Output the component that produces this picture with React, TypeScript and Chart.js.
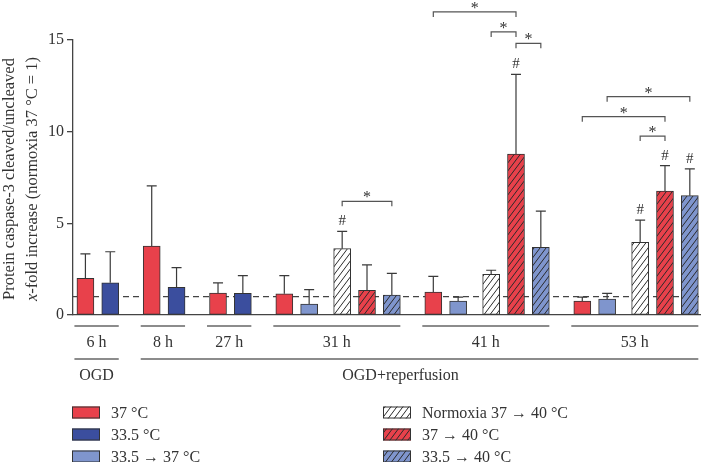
import React, { useEffect, useRef } from "react";
import { Chart, registerables } from "chart.js";
Chart.register(...registerables);

const FONT = '"Liberation Serif", "Times New Roman", serif';

// ---- data ----
const timepoints = ["6 h", "8 h", "27 h", "31 h", "41 h", "53 h"];
const phaseLabels = ["OGD", "OGD+reperfusion"];
const phaseFirstGroup = [0, 1];
const phaseLastGroup = [0, 5];
const seriesNames = [
  "37 °C",
  "33.5 °C",
  "33.5 → 37 °C",
  "Normoxia 37 → 40 °C",
  "37 → 40 °C",
  "33.5 → 40 °C",
];
const mean37C = [2.0, 3.76, 1.2, 1.16, 1.25, 0.76];
const sd37C = [1.33, 3.28, 0.55, 0.99, 0.86, 0.22];
const mean33C = [1.76, 1.51, 1.18, null, null, null];
const sd33C = [1.69, 1.07, 0.97, null, null, null];
const mean33to37 = [null, null, null, 0.6, 0.76, 0.87];
const sd33to37 = [null, null, null, 0.78, 0.22, 0.31];
const meanNormoxia = [null, null, null, 3.62, 2.22, 3.97];
const sdNormoxia = [null, null, null, 0.94, 0.22, 1.21];
const mean37to40 = [null, null, null, 1.35, 8.78, 6.76];
const sd37to40 = [null, null, null, 1.38, 4.35, 1.39];
const mean33to40 = [null, null, null, 1.09, 3.69, 6.51];
const sd33to40 = [null, null, null, 1.18, 1.98, 1.46];

const yTicksMax = 15;
const yTickStep = 5;
const referenceLevel = 1;

// significance brackets: [timepoint index, from series, to series, level]
const brackets: [number, number, number, number][] = [
  [3, 3, 5, 6.2],
  [4, 0, 4, 16.53],
  [4, 3, 4, 15.44],
  [4, 4, 5, 14.82],
  [5, 2, 5, 11.91],
  [5, 0, 4, 10.82],
  [5, 3, 4, 9.76],
];
// "#" marks: [timepoint index, series]
const hashMarks: [number, number][] = [
  [3, 3],
  [4, 4],
  [5, 3],
  [5, 4],
  [5, 5],
];

const means = [mean37C, mean33C, mean33to37, meanNormoxia, mean37to40, mean33to40];
const sds = [sd37C, sd33C, sd33to37, sdNormoxia, sd37to40, sd33to40];

const RED = "#E8414B";
const DARK_BLUE = "#3B4E9E";
const LIGHT_BLUE = "#7F95CD";
const WHITE = "#FFFFFF";
const INK = "#333333";
const LINE = "#555555";

function computePositions() {
  const WITHIN = 1;
  const HATCH_GAP = 1.33;
  const GROUP_GAP = 1.67;
  const pos: (number | null)[][] = means.map(() => timepoints.map(() => null));
  let cursor = 0;
  timepoints.forEach((_, t) => {
    let prev = -1;
    for (let s = 0; s < means.length; s++) {
      if (means[s][t] == null) continue;
      if (prev >= 0) cursor += s >= 3 && prev < 3 ? HATCH_GAP : WITHIN;
      pos[s][t] = cursor;
      prev = s;
    }
    cursor += GROUP_GAP;
  });
  return pos;
}

function makePattern(bg: string): CanvasPattern | string {
  const w = 6;
  const h = 8;
  const c = document.createElement("canvas");
  c.width = w;
  c.height = h;
  const g = c.getContext("2d");
  if (!g) return bg;
  g.fillStyle = bg;
  g.fillRect(0, 0, w, h);
  g.strokeStyle = "#2a2a2a";
  g.lineWidth = 1;
  for (const off of [-w, 0, w]) {
    g.beginPath();
    const x0 = -1;
    const x1 = w + 1;
    g.moveTo(x0, h - (h / w) * (x0 - off));
    g.lineTo(x1, h - (h / w) * (x1 - off));
    g.stroke();
  }
  const p = g.createPattern(c, "repeat");
  return p || bg;
}

export default function App() {
  const ref = useRef<HTMLCanvasElement>(null);

  useEffect(() => {
    const canvas = ref.current;
    if (!canvas) return;
    const fills = [RED, DARK_BLUE, LIGHT_BLUE, makePattern(WHITE), makePattern(RED), makePattern(LIGHT_BLUE)];
    const positions = computePositions();
    const BAR_W = 17;

    const datasets = seriesNames.map((name, s) => ({
      label: name,
      data: timepoints
        .map((_, t) => (means[s][t] == null ? null : { x: positions[s][t] as number, y: means[s][t] as number }))
        .filter((d) => d !== null) as { x: number; y: number }[],
      backgroundColor: fills[s] as any,
      borderColor: "#333",
      borderWidth: 1,
      borderSkipped: false as const,
      grouped: false,
      barThickness: BAR_W,
    }));

    const annot = {
      id: "annot",
      beforeDatasetsDraw(chart: any) {
        const { ctx, chartArea, scales } = chart;
        const y = scales.y.getPixelForValue(referenceLevel);
        ctx.save();
        ctx.strokeStyle = "#444";
        ctx.lineWidth = 1.3;
        ctx.setLineDash([6, 4]);
        ctx.beginPath();
        ctx.moveTo(chartArea.left, y);
        ctx.lineTo(chartArea.right, y);
        ctx.stroke();
        ctx.restore();
      },
      afterDatasetsDraw(chart: any) {
        const { ctx, scales } = chart;
        const xs = scales.x;
        const ys = scales.y;
        ctx.save();
        // error bars
        ctx.strokeStyle = "#3a3a3a";
        ctx.lineWidth = 1.2;
        means.forEach((arr, s) => {
          arr.forEach((m, t) => {
            if (m == null) return;
            const sd = sds[s][t] as number;
            const x = xs.getPixelForValue(positions[s][t] as number);
            const y0 = ys.getPixelForValue(m);
            const y1 = ys.getPixelForValue(m + sd);
            ctx.beginPath();
            ctx.moveTo(x, y0);
            ctx.lineTo(x, y1);
            ctx.moveTo(x - 5, y1);
            ctx.lineTo(x + 5, y1);
            ctx.stroke();
          });
        });
        // brackets
        ctx.strokeStyle = LINE;
        ctx.fillStyle = INK;
        ctx.lineWidth = 1.2;
        ctx.font = `16px ${FONT}`;
        ctx.textAlign = "center";
        ctx.textBaseline = "alphabetic";
        brackets.forEach(([t, a, b, lvl]) => {
          const xa = xs.getPixelForValue(positions[a][t] as number);
          const xb = xs.getPixelForValue(positions[b][t] as number);
          const y = ys.getPixelForValue(lvl);
          ctx.beginPath();
          ctx.moveTo(xa, y + 5);
          ctx.lineTo(xa, y);
          ctx.lineTo(xb, y);
          ctx.lineTo(xb, y + 5);
          ctx.stroke();
          ctx.fillText("*", (xa + xb) / 2, y + 1);
        });
        // hash marks
        ctx.font = `15px ${FONT}`;
        hashMarks.forEach(([t, s]) => {
          const m = means[s][t] as number;
          const sd = sds[s][t] as number;
          const x = xs.getPixelForValue(positions[s][t] as number);
          const y = ys.getPixelForValue(m + sd);
          ctx.fillText("#", x, y - 6);
        });
        ctx.restore();
      },
      afterDraw(chart: any) {
        const { ctx, chartArea, scales } = chart;
        const xs = scales.x;
        ctx.save();
        const groupEdges = timepoints.map((_, t) => {
          const ps = positions.map((p) => p[t]).filter((v) => v != null) as number[];
          const left = xs.getPixelForValue(Math.min(...ps)) - BAR_W / 2 - 2.5;
          const right = xs.getPixelForValue(Math.max(...ps)) + BAR_W / 2;
          return [left, right];
        });
        const b = chartArea.bottom;
        ctx.strokeStyle = "#666";
        ctx.lineWidth = 1.5;
        ctx.fillStyle = INK;
        ctx.font = `16px ${FONT}`;
        ctx.textAlign = "center";
        ctx.textBaseline = "middle";
        groupEdges.forEach(([l, r], t) => {
          ctx.beginPath();
          ctx.moveTo(l, b + 11);
          ctx.lineTo(r, b + 11);
          ctx.stroke();
          ctx.fillText(timepoints[t], (l + r) / 2, b + 28);
        });
        phaseLabels.forEach((lab, i) => {
          const l = groupEdges[phaseFirstGroup[i]][0];
          const r = groupEdges[phaseLastGroup[i]][1];
          ctx.beginPath();
          ctx.moveTo(l, b + 44);
          ctx.lineTo(r, b + 44);
          ctx.stroke();
          const cx = i === 0 ? (l + r) / 2 : (l + r) / 2 - 19;
          ctx.fillText(lab, cx, b + 61);
        });

        // legend
        const colX = [72, 383];
        const rowY = [412.5, 434.5, 456.5];
        ctx.textAlign = "left";
        seriesNames.forEach((name, s) => {
          const x = colX[Math.floor(s / 3)];
          const y = rowY[s % 3];
          ctx.fillStyle = fills[s] as any;
          ctx.fillRect(x, y - 6, 28, 12);
          ctx.strokeStyle = "#333";
          ctx.lineWidth = 1;
          ctx.strokeRect(x + 0.5, y - 5.5, 27, 11);
          ctx.fillStyle = INK;
          ctx.fillText(name, x + 39, y + 1);
        });

        // y-axis title
        const cy = (chartArea.top + chartArea.bottom) / 2 + 1.5;
        ctx.textBaseline = "alphabetic";
        ctx.textAlign = "left";
        const fs = 16.5;
        const line1 = "Protein caspase-3 cleaved/uncleaved";
        ctx.font = `${fs}px ${FONT}`;
        const w1 = ctx.measureText(line1).width;
        ctx.save();
        ctx.translate(14, cy);
        ctx.rotate(-Math.PI / 2);
        ctx.fillText(line1, -w1 / 2, 0);
        ctx.restore();
        const partA = "x";
        const partB = "-fold increase (normoxia 37 °C = 1)";
        ctx.font = `italic ${fs}px ${FONT}`;
        const wa = ctx.measureText(partA).width;
        ctx.font = `${fs}px ${FONT}`;
        const wb = ctx.measureText(partB).width;
        ctx.save();
        ctx.translate(37, cy);
        ctx.rotate(-Math.PI / 2);
        ctx.font = `italic ${fs}px ${FONT}`;
        ctx.fillText(partA, -(wa + wb) / 2, 0);
        ctx.font = `${fs}px ${FONT}`;
        ctx.fillText(partB, -(wa + wb) / 2 + wa, 0);
        ctx.restore();
        ctx.restore();
      },
    };

    const chart = new Chart(canvas, {
      type: "bar",
      data: { datasets: datasets as any },
      options: {
        animation: false,
        responsive: true,
        maintainAspectRatio: false,
        layout: { padding: { top: 40, right: 3, left: 0, bottom: 0 } },
        plugins: { legend: { display: false }, tooltip: { enabled: false } },
        scales: {
          x: {
            type: "linear",
            min: -0.5,
            max: 24.75,
            offset: false,
            ticks: { display: false },
            grid: { display: false },
            border: { display: true, color: "#444", width: 1.3 },
            afterFit: (scale: any) => {
              scale.height = 147;
            },
          },
          y: {
            min: 0,
            max: yTicksMax,
            ticks: {
              stepSize: yTickStep,
              color: INK,
              padding: 3,
              font: { family: FONT, size: 16 },
            },
            grid: { display: true, drawOnChartArea: false, drawTicks: true, tickLength: 6, color: "#444", lineWidth: 1.3 },
            border: { display: true, color: "#444", width: 1.3 },
            afterFit: (scale: any) => {
              scale.width = 73;
            },
          },
        },
      },
      plugins: [annot],
    });
    return () => chart.destroy();
  }, []);

  return (
    <div style={{ position: "fixed", left: 0, top: 0, width: 703, height: 462, background: "#fff" }}>
      <canvas ref={ref} />
    </div>
  );
}
